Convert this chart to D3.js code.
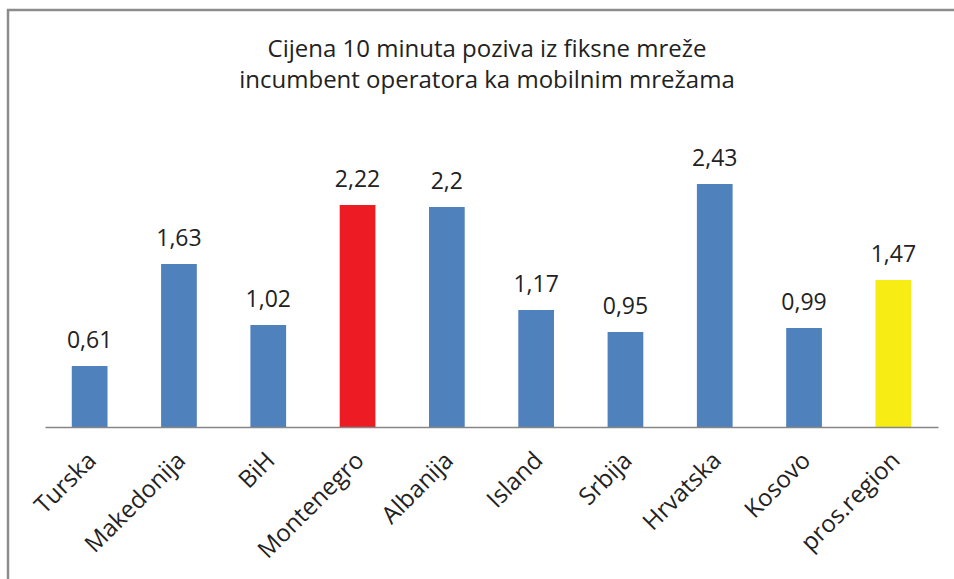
<!DOCTYPE html>
<html>
<head>
<meta charset="utf-8">
<script src="https://cdn.jsdelivr.net/npm/d3@7"></script>
<style>
  body { margin: 0; background: #fff; }
  svg { display: block; }
</style>
</head>
<body>
<script>
// chart data
var countries = ["Turska", "Makedonija", "BiH", "Montenegro", "Albanija", "Island", "Srbija", "Hrvatska", "Kosovo", "pros.region"];
var prices = [0.61, 1.63, 1.02, 2.22, 2.2, 1.17, 0.95, 2.43, 0.99, 1.47];
var labels = ["0,61", "1,63", "1,02", "2,22", "2,2", "1,17", "0,95", "2,43", "0,99", "1,47"];
var barColors = ["#4f81bd", "#4f81bd", "#4f81bd", "#ed1c24", "#4f81bd", "#4f81bd", "#4f81bd", "#4f81bd", "#4f81bd", "#f7ec13"];
var titleLines = ["Cijena 10 minuta poziva iz fiksne mreže", "incumbent operatora ka mobilnim mrežama"];

var W = 954, H = 579;
var font = "'Open Sans', sans-serif";

var svg = d3.select("body").append("svg")
  .attr("width", W)
  .attr("height", H);

svg.append("rect").attr("width", W).attr("height", H).attr("fill", "#fff");

// frame (only top and left edges are visible)
svg.append("path")
  .attr("d", "M8," + H + "V10H" + W)
  .attr("fill", "none")
  .attr("stroke", "#8c8c8c")
  .attr("stroke-width", 2.5);

// scales
var x = d3.scaleBand()
  .domain(countries)
  .range([45, 938])
  .paddingInner(0.6)
  .paddingOuter(0.3);

var y = d3.scaleLinear()
  .domain([0, 3])
  .range([427, 127]);

// title
svg.append("text")
  .attr("font-family", font)
  .attr("font-size", "24px")
  .attr("fill", "#222")
  .attr("text-anchor", "middle")
  .selectAll("tspan")
  .data(titleLines)
  .enter().append("tspan")
  .attr("x", 487)
  .attr("y", function(d, i) { return 57 + i * 31; })
  .text(function(d) { return d; });

// bars
svg.selectAll(".bar")
  .data(prices)
  .enter().append("rect")
  .attr("class", "bar")
  .attr("x", function(d, i) { return x(countries[i]); })
  .attr("y", function(d) { return y(d); })
  .attr("width", x.bandwidth())
  .attr("height", function(d) { return y(0) - y(d); })
  .attr("fill", function(d, i) { return barColors[i]; });

// value labels
svg.selectAll(".val")
  .data(prices)
  .enter().append("text")
  .attr("class", "val")
  .attr("font-family", font)
  .attr("font-size", "23px")
  .attr("fill", "#222")
  .attr("text-anchor", "middle")
  .attr("x", function(d, i) { return x(countries[i]) + x.bandwidth() / 2; })
  .attr("y", function(d) { return y(d) - 18; })
  .text(function(d, i) { return labels[i]; });

// x axis
var xAxis = svg.append("g")
  .attr("transform", "translate(0," + y(0) + ")")
  .call(d3.axisBottom(x).tickSize(0).tickSizeOuter(0));

xAxis.select(".domain")
  .attr("stroke", "#868686")
  .attr("stroke-width", 1.5);

xAxis.selectAll(".tick text")
  .attr("font-family", font)
  .attr("font-size", "24px")
  .attr("fill", "#222")
  .attr("text-anchor", "end")
  .attr("transform", "translate(2,29) rotate(-45)")
  .attr("x", 0)
  .attr("y", 0)
  .attr("dy", "0.35em");
</script>
</body>
</html>
